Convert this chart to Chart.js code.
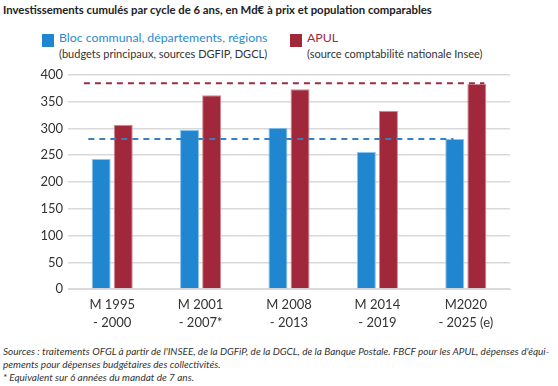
<!DOCTYPE html>
<html lang="fr">
<head>
<meta charset="utf-8">
<script src="https://cdn.jsdelivr.net/npm/chart.js@4/dist/chart.umd.min.js"></script>
<style>
  body { margin:0; width:558px; height:386px; background:#fff; font-family:Lato, sans-serif; position:relative; overflow:hidden; }
  .title { position:absolute; left:3px; top:3px; font-size:11.35px; font-weight:bold; color:#222; white-space:nowrap; }
  .leg { position:absolute; top:30px; }
  .leg .sq { position:absolute; left:0; top:4px; width:12px; height:13px; }
  .leg .main { position:absolute; left:17px; top:0; font-size:12.3px; white-space:nowrap; }
  .leg .sub { position:absolute; left:17px; top:17px; font-size:11px; color:#333; white-space:nowrap; }
  .wrap { position:absolute; left:0; top:62px; width:558px; height:277px; }
  .foot { position:absolute; left:3px; top:345px; font-size:10px; font-style:italic; color:#333; line-height:13px; white-space:nowrap; }
</style>
</head>
<body>
<div class="title">Investissements cumulés par cycle de 6 ans, en Md€ à prix et population comparables</div>
<div class="leg" style="left:42px">
  <div class="sq" style="background:#2186d0"></div>
  <div class="main" style="color:#2a8ad2">Bloc communal, départements, régions</div>
  <div class="sub">(budgets principaux, sources DGFIP, DGCL)</div>
</div>
<div class="leg" style="left:290px">
  <div class="sq" style="background:#a0283a"></div>
  <div class="main" style="color:#a0283a">APUL</div>
  <div class="sub">(source comptabilité nationale Insee)</div>
</div>
<div class="wrap"><canvas id="c"></canvas></div>
<div class="foot">Sources : traitements OFGL à partir de l'INSEE, de la DGFiP, de la DGCL, de la Banque Postale. FBCF pour les APUL, dépenses d'équi-<br>pements pour dépenses budgétaires des collectivités.<br>* Equivalent sur 6 années du mandat de 7 ans.</div>
<script>
const categories = [
  ['M 1995', '- 2000'],
  ['M 2001', '- 2007*'],
  ['M 2008', '- 2013'],
  ['M 2014', '- 2019'],
  ['M2020', '- 2025 (e)']
];
const blocValues = [243, 297, 301, 256, 280];
const apulValues = [307, 362, 373, 333, 383];
const yTicks = [0, 50, 100, 150, 200, 250, 300, 350, 400];

// dashed reference levels: value, and span in category index units
const blocRef = [280, -0.27, 3.86];
const apulRef = [384, -0.32, 4.21];

const BLUE = '#2186d0';
const RED = '#a0283a';

const refLines = {
  id: 'refLines',
  afterDatasetsDraw(chart) {
    const { ctx, scales:{ x, y } } = chart;
    [[blocRef, '#3b7fbd'], [apulRef, '#9c2d45']].forEach(([r, col]) => {
      const py = y.getPixelForValue(r[0]);
      ctx.save();
      ctx.strokeStyle = col;
      ctx.lineWidth = 2;
      ctx.setLineDash([6, 5]);
      ctx.beginPath();
      ctx.moveTo(x.getPixelForValue(r[1]), py);
      ctx.lineTo(x.getPixelForValue(r[2]), py);
      ctx.stroke();
      ctx.restore();
    });
  }
};

new Chart(document.getElementById('c'), {
  type: 'bar',
  data: {
    labels: categories,
    datasets: [
      { label:'Bloc', data: blocValues, backgroundColor: BLUE, borderColor:'#8cc4ee', borderWidth:1,
        categoryPercentage:0.5, barPercentage:0.86 },
      { label:'APUL', data: apulValues, backgroundColor: RED, borderColor:'#d08a94', borderWidth:1,
        categoryPercentage:0.5, barPercentage:0.86 }
    ]
  },
  options: {
    responsive: true,
    maintainAspectRatio: false,
    animation: false,
    layout: { padding: { left:0, right:48, top:5, bottom:0 } },
    plugins: { legend:{ display:false }, tooltip:{ enabled:false } },
    scales: {
      x: {
        grid: { display:false, drawTicks:false },
        border: { display:true, color:'#d9d9d9' },
        ticks: { color:'#333', font:{ family:'Lato', size:13, lineHeight:1.38 }, padding:7, maxRotation:0 }
      },
      y: {
        min: 0, max: 400,
        afterBuildTicks: s => { s.ticks = yTicks.map(v => ({ value:v })); },
        afterFit: s => { s.width = 68; },
        grid: { color:'#d9d9d9', lineWidth:1.5, drawTicks:false },
        border: { display:false },
        ticks: { color:'#333', font:{ family:'Lato', size:13 }, padding:5 }
      }
    }
  },
  plugins: [refLines]
});
</script>
</body>
</html>
